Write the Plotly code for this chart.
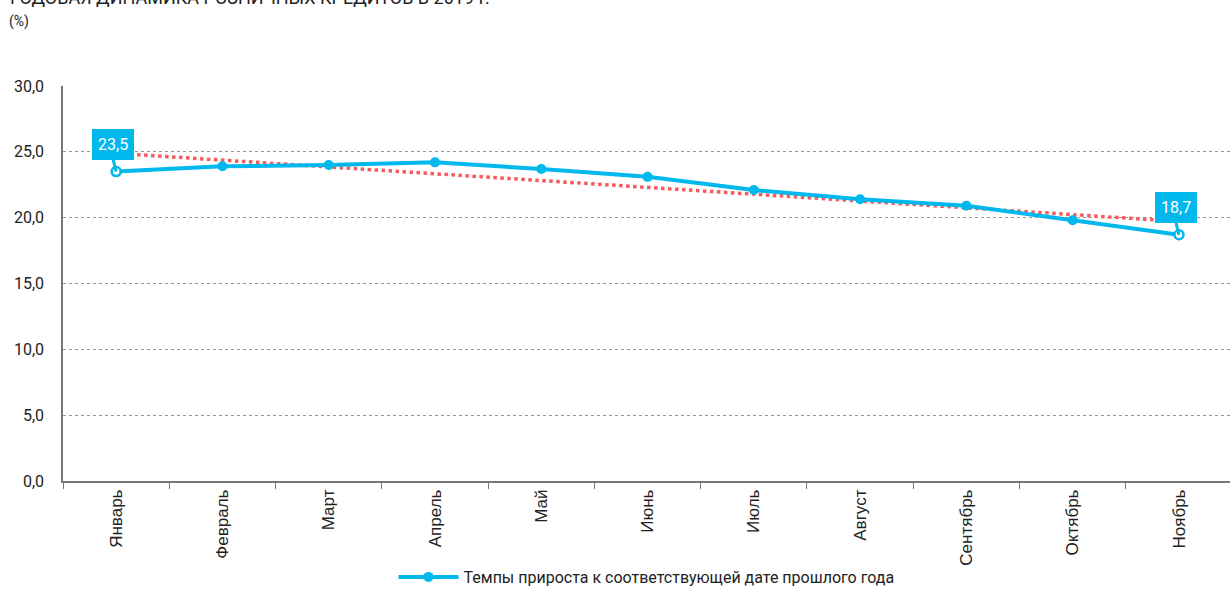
import numpy as np
import plotly.graph_objects as go

months = ["Январь", "Февраль", "Март", "Апрель", "Май", "Июнь",
          "Июль", "Август", "Сентябрь", "Октябрь", "Ноябрь"]
growth = [23.5, 23.9, 24.0, 24.2, 23.7, 23.1, 22.1, 21.4, 20.9, 19.8, 18.7]
y_ticks = [0, 5, 10, 15, 20, 25, 30]
y_tick_text = ["0,0", "5,0", "10,0", "15,0", "20,0", "25,0", "30,0"]

BLUE = "#00B8EC"
RED = "#F65A5A"

# linear trend fitted to the monthly series
idx = np.arange(len(growth))
slope, intercept = np.polyfit(idx, growth, 1)
trend = slope * idx + intercept

fig = go.Figure()
fig.add_trace(go.Scatter(
    x=months, y=trend, mode="lines",
    line=dict(color=RED, width=3.5, dash="dot"),
    showlegend=False, hoverinfo="skip"))

fig.add_trace(go.Scatter(
    x=months, y=growth, mode="lines+markers",
    name="Темпы прироста к соответствующей дате прошлого года",
    line=dict(color=BLUE, width=4),
    marker=dict(size=10, color=BLUE)))

# hollow markers at the labelled first and last months
ends = [0, len(growth) - 1]
fig.add_trace(go.Scatter(
    x=[months[i] for i in ends], y=[growth[i] for i in ends], mode="markers",
    marker=dict(size=9, color="white", line=dict(color=BLUE, width=2.5)),
    showlegend=False, hoverinfo="skip"))

# value callouts for the first and last months
for i in ends:
    fig.add_annotation(
        x=months[i], y=growth[i],
        text=f"{growth[i]:.1f}".replace(".", ","),
        showarrow=True, arrowhead=0, arrowwidth=3, arrowcolor=BLUE,
        ax=-3, ay=-12, xanchor="center", yanchor="bottom",
        bgcolor=BLUE, borderpad=5, bordercolor=BLUE,
        font=dict(family="Roboto", size=16, color="white"))

fig.add_annotation(
    xref="paper", yref="paper", x=-0.047, y=1.0, yshift=76,
    xanchor="left", yanchor="bottom", showarrow=False,
    text="ГОДОВАЯ ДИНАМИКА РОЗНИЧНЫХ КРЕДИТОВ В 2019 Г.",
    font=dict(family="Roboto", size=18, color="#222"))
fig.add_annotation(
    xref="paper", yref="paper", x=-0.048, y=1.0, yshift=54,
    xanchor="left", yanchor="bottom", showarrow=False,
    text="(%)", font=dict(family="Roboto", size=14, color="#222"))

fig.update_layout(
    width=1230, height=594,
    margin=dict(l=63, r=0, t=86, b=113),
    paper_bgcolor="white", plot_bgcolor="white",
    font=dict(family="Roboto", color="#222"),
    legend=dict(orientation="h", x=0.5, xanchor="center",
                yref="container", y=-0.015, yanchor="bottom",
                font=dict(size=16), itemwidth=60),
    xaxis=dict(type="category", range=[-0.5, 10.48], showgrid=False,
               showline=True, linecolor="#777", linewidth=1.5,
               ticks="outside", tickson="boundaries", ticklen=6,
               tickcolor="#777", tickangle=-90, automargin=False,
               tickfont=dict(family="Liberation Sans", size=17, color="#222")),
    yaxis=dict(range=[0, 30], tickvals=y_ticks, ticktext=y_tick_text,
               showgrid=True, gridcolor="#999", griddash="dot", gridwidth=1,
               showline=True, linecolor="#777", linewidth=1.5,
               ticks="", ticklabelstandoff=14, zeroline=False,
               automargin=False, tickfont=dict(size=16, color="#222")),
)

fig.write_html("out.html")
